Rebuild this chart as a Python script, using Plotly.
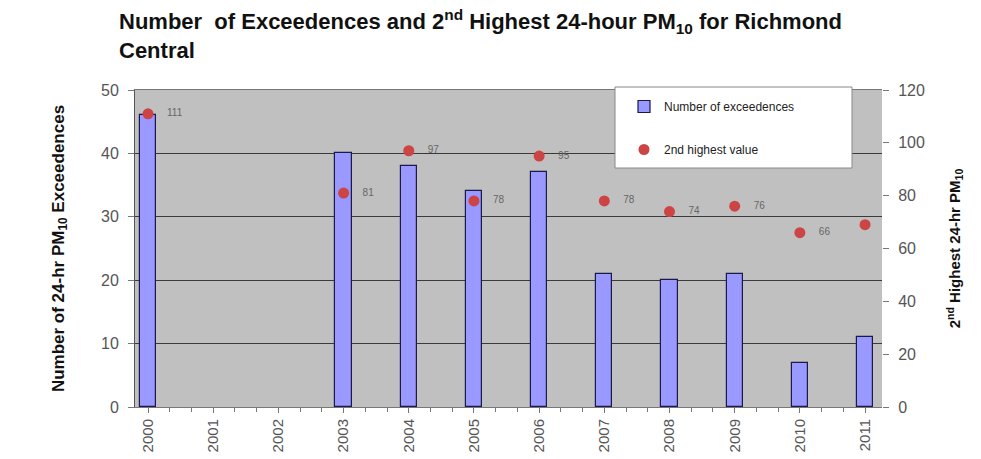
import plotly.graph_objects as go

years = [2000, 2001, 2002, 2003, 2004, 2005, 2006, 2007, 2008, 2009, 2010, 2011]
year_labels = [str(y) for y in years]
bar_years = [2000, 2003, 2004, 2005, 2006, 2007, 2008, 2009, 2010, 2011]
exceedences = [46, 40, 38, 34, 37, 21, 20, 21, 7, 11]
second_highest = [111, 81, 97, 78, 95, 78, 74, 76, 66, 69]

FONT = "Liberation Sans, Arial, sans-serif"
GRAY = "#555555"

# the page adds an ~8px offset; compensate in margins
OFF = 8
L, R, T, B = 135 - OFF, 981 - 882 + OFF, 90 - OFF, 459 - 407 + OFF
W, H = 981, 459
PW, PH = W - L - R, H - T - B

def px_x(x):
    return (x - OFF - L) / PW

def px_y(y):
    return 1 - (y - OFF - T) / PH

fig = go.Figure()
fig.add_trace(go.Bar(
    x=bar_years, y=exceedences, name="Number of exceedences",
    width=0.25, legendgroup="a",
    marker=dict(color="#9999ff", line=dict(color="#1a1a4a", width=1.2)),
))
fig.add_trace(go.Scatter(
    x=bar_years, y=second_highest, name="2nd highest value", yaxis="y2",
    mode="markers+text", text=["    " + str(v) for v in second_highest],
    textposition="middle right", legendgroup="b",
    textfont=dict(size=10, color="#666666", family=FONT),
    marker=dict(color="#cc4444", size=11),
))

fig.add_shape(type="rect", xref="paper", yref="paper",
              x0=px_x(615), x1=px_x(852), y0=px_y(168), y1=px_y(87),
              fillcolor="white", line=dict(color="#888888", width=1), layer="above")

fig.update_layout(
    width=W, height=H,
    margin=dict(l=L, r=R, t=T, b=B, autoexpand=False),
    paper_bgcolor="white", plot_bgcolor="#c0c0c0",
    font=dict(family=FONT, color=GRAY),
    title=dict(
        text="<b>Number  of Exceedences and 2<sup>nd</sup> Highest 24-hour PM<sub>10</sub> for Richmond<br>Central</b>",
        x=111 / W, xanchor="left", y=1 - 21 / H, yanchor="top",
        font=dict(size=22, color="#111111", family=FONT),
    ),
    xaxis=dict(
        range=[1999.8, 2011.26], tickvals=years, ticktext=year_labels,
        tickangle=-90, tickfont=dict(size=15, color=GRAY),
        ticks="outside", ticklen=5, tickcolor="#777777",
        minor=dict(tick0=2000, dtick=1/3, ticks="outside", ticklen=4, tickcolor="#777777"),
        showgrid=False, showline=True, linecolor="#777777", mirror=True, zeroline=False,
        automargin=False,
    ),
    yaxis=dict(
        range=[0, 50], dtick=10, tickfont=dict(size=16, color=GRAY),
        ticks="outside", ticklen=6, tickcolor="#777777", ticklabelstandoff=6,
        showgrid=True, gridcolor="#3a3a3a", gridwidth=1,
        showline=True, linecolor="#555555", zeroline=False, automargin=False,
        title=dict(text="<b>Number of 24-hr PM<sub>10</sub> Exceedences</b>",
                   font=dict(size=17, color="#111111"), standoff=32),
    ),
    yaxis2=dict(
        range=[0, 120], dtick=20, overlaying="y", side="right",
        tickfont=dict(size=16, color=GRAY),
        ticks="outside", ticklen=6, tickcolor="#777777", ticklabelstandoff=6,
        showgrid=False, showline=False, zeroline=False, automargin=False,
        title=dict(text="<b>2<sup>nd</sup> Highest 24-hr PM<sub>10</sub></b>",
                   font=dict(size=15, color="#111111"), standoff=25),
    ),
    legend=dict(
        x=px_x(624), y=px_y(92), xanchor="left", yanchor="top",
        bgcolor="rgba(0,0,0,0)", borderwidth=0,
        font=dict(size=12, color="#222222"), tracegroupgap=24,
        itemwidth=30,
    ),
    showlegend=True,
    bargap=0,
)

fig.write_html("out.html")
